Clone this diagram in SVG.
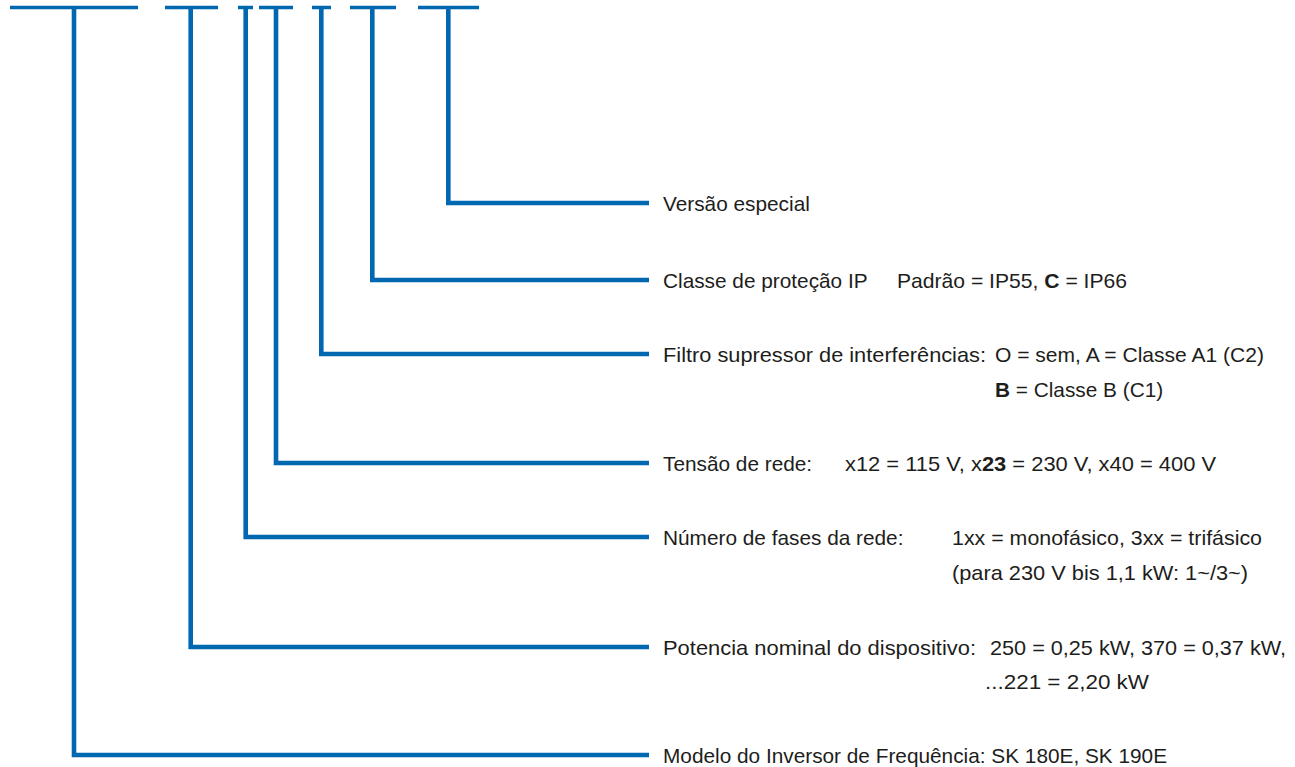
<svg xmlns="http://www.w3.org/2000/svg" width="1295" height="767" viewBox="0 0 1295 767">
<style>
  .bar { stroke: #0067b1; stroke-width: 3.5; fill: none; }
  .conn { stroke: #0067b1; stroke-width: 4.6; fill: none; stroke-linejoin: miter; stroke-linecap: butt; }
  .lbl { font-family: "Liberation Sans", Arial, sans-serif; font-size: 20.8px; fill: #1d1d1b; }
  .b { font-weight: bold; }
</style>
<rect width="1295" height="767" fill="#ffffff"/>
<g id="code-bar">
  <line class="bar" x1="10" y1="7.5" x2="138" y2="7.5"/>
  <line class="bar" x1="165" y1="7.5" x2="218" y2="7.5"/>
  <line class="bar" x1="238" y1="7.5" x2="253" y2="7.5"/>
  <line class="bar" x1="259" y1="7.5" x2="293" y2="7.5"/>
  <line class="bar" x1="312" y1="7.5" x2="331" y2="7.5"/>
  <line class="bar" x1="350" y1="7.5" x2="396" y2="7.5"/>
  <line class="bar" x1="418" y1="7.5" x2="479" y2="7.5"/>
</g>
<g id="connectors">
  <path class="conn" d="M74 6 V755 H649"/>
  <path class="conn" d="M190.7 6 V647 H649"/>
  <path class="conn" d="M245.7 6 V537 H649"/>
  <path class="conn" d="M276 6 V463 H649"/>
  <path class="conn" d="M321.3 6 V354 H649"/>
  <path class="conn" d="M372.3 6 V280 H649"/>
  <path class="conn" d="M448.3 6 V203 H649"/>
</g>
<g id="versao">
  <text class="lbl" x="663" y="210.5">Versão especial</text>
</g>
<g id="classe">
  <text class="lbl" x="663" y="287.5">Classe de proteção IP</text>
  <text class="lbl" x="897" y="287.5" textLength="230" lengthAdjust="spacingAndGlyphs">Padrão = IP55, <tspan class="b">C</tspan> = IP66</text>
</g>
<g id="filtro">
  <text class="lbl" x="663" y="361.5" textLength="323" lengthAdjust="spacingAndGlyphs">Filtro supressor de interferências:</text>
  <text class="lbl" x="995" y="361.5" textLength="269" lengthAdjust="spacingAndGlyphs">O = sem, A = Classe A1 (C2)</text>
  <text class="lbl" x="995" y="396.5"><tspan class="b">B</tspan> = Classe B (C1)</text>
</g>
<g id="tensao">
  <text class="lbl" x="663" y="470.5">Tensão de rede:</text>
  <text class="lbl" x="845" y="470.5" textLength="371" lengthAdjust="spacingAndGlyphs">x12 = 115 V, x<tspan class="b">23</tspan> = 230 V, x40 = 400 V</text>
</g>
<g id="numero">
  <text class="lbl" x="663" y="544.5">Número de fases da rede:</text>
  <text class="lbl" x="952" y="544.5" textLength="310" lengthAdjust="spacingAndGlyphs">1xx = monofásico, 3xx = trifásico</text>
  <text class="lbl" x="952" y="579.5" textLength="296" lengthAdjust="spacingAndGlyphs">(para 230 V bis 1,1 kW: 1~/3~)</text>
</g>
<g id="potencia">
  <text class="lbl" x="663" y="654.5" textLength="313" lengthAdjust="spacingAndGlyphs">Potencia nominal do dispositivo:</text>
  <text class="lbl" x="990" y="654.5" textLength="296" lengthAdjust="spacingAndGlyphs">250 = 0,25 kW, 370 = 0,37 kW,</text>
  <text class="lbl" x="985" y="689" textLength="164" lengthAdjust="spacingAndGlyphs">...221 = 2,20 kW</text>
</g>
<g id="modelo">
  <text class="lbl" x="663" y="762.5">Modelo do Inversor de Frequência: SK 180E, SK 190E</text>
</g>
</svg>
